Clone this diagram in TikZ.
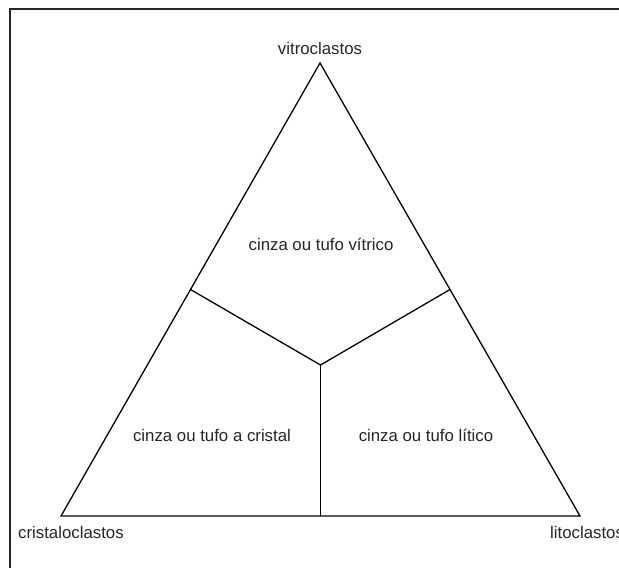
\documentclass[tikz,border=0pt]{standalone}
\usepackage{fontspec}
\setmainfont{Liberation Sans}
\begin{document}
\begin{tikzpicture}[x=1pt,y=-1pt,
  lbl/.style={inner sep=0pt,text=black!85,font=\fontsize{16.8}{20}\selectfont},
  edge/.style={line width=1.3pt,black},
  frame/.style={line width=2pt,black!85}]
\useasboundingbox (0,0) rectangle (619,568);
\fill[white] (0,0) rectangle (619,568);
\draw[frame] (10,568) -- (10,9) -- (619,9);
\coordinate (A) at (320,63);
\coordinate (B) at (61,516);
\coordinate (C) at (580,516);
\coordinate (O) at (320.5,365);
\coordinate (mAB) at (190.5,289.5);
\coordinate (mAC) at (450,289.5);
\coordinate (mBC) at (320.5,516);
\draw[edge,line join=miter] (A) -- (B) -- (C) -- cycle;
\draw[edge] (mAB) -- (O) -- (mAC);
\draw[edge] (O) -- (mBC);
\node[lbl,anchor=base] (vit) at (320,54) {vitroclastos};
\node[lbl,anchor=base west] (cri) at (18,538) {cristaloclastos};
\node[lbl,anchor=base west] (lit) at (550,538) {litoclastos};
\node[lbl,anchor=base] (tv) at (321,250) {cinza ou tufo vítrico};
\node[lbl,anchor=base] (tc) at (212,441) {cinza ou tufo a cristal};
\node[lbl,anchor=base] (tl) at (426,441) {cinza ou tufo lítico};
\end{tikzpicture}
\end{document}
